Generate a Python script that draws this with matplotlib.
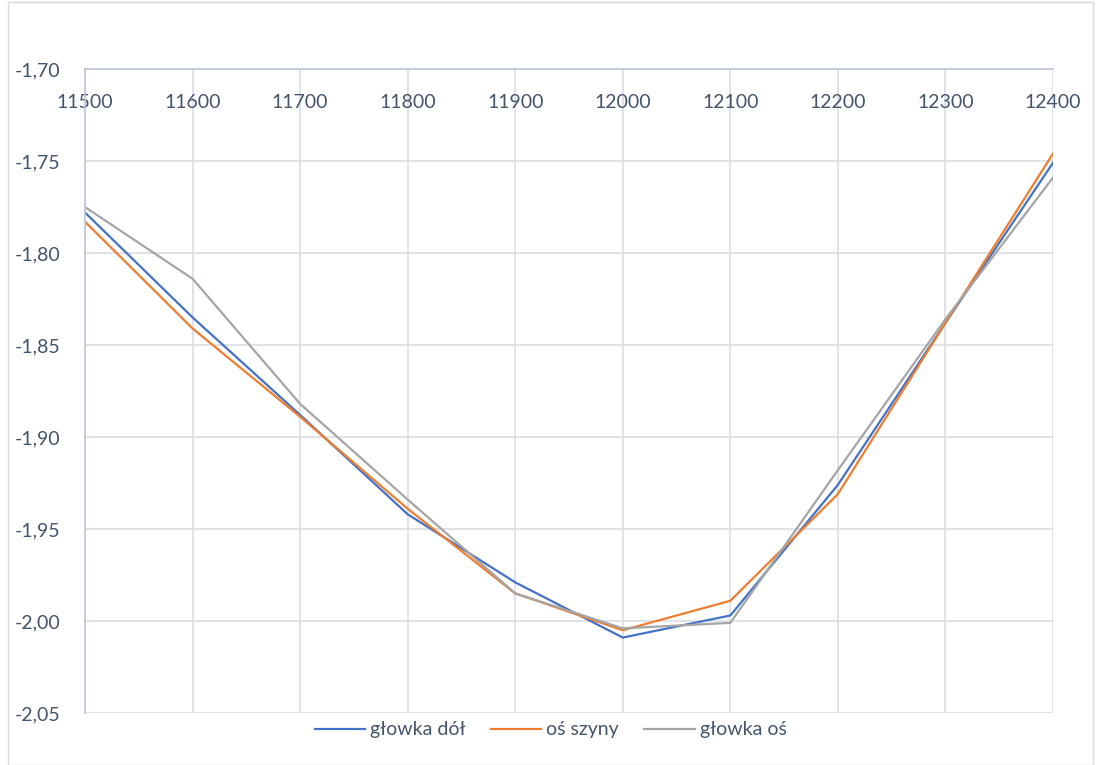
import matplotlib
matplotlib.use('Agg')
import matplotlib.pyplot as plt
from matplotlib.ticker import FuncFormatter, MultipleLocator
from matplotlib.patches import Rectangle

# data
km = [11500, 11600, 11700, 11800, 11900, 12000, 12100, 12200, 12300, 12400]
glowka_dol = [-1.778, -1.835, -1.888, -1.942, -1.979, -2.009, -1.997, -1.926, -1.838, -1.751]
os_szyny = [-1.783, -1.841, -1.889, -1.939, -1.985, -2.005, -1.989, -1.931, -1.838, -1.746]
glowka_os = [-1.775, -1.814, -1.882, -1.934, -1.985, -2.004, -2.001, -1.918, -1.836, -1.759]

labels = ['głowka dół', 'oś szyny', 'głowka oś']
colors = ['#4472C4', '#ED7D31', '#A5A5A5']
text_c = '#44546A'
grid_c = '#D9DDE3'

plt.rcParams['font.family'] = ['Lato', 'DejaVu Sans']

W, H = 1101, 765
fig = plt.figure(figsize=(W / 100, H / 100), dpi=100)
ax = fig.add_axes([85 / W, 1 - 713 / H, (1053 - 85) / W, (713 - 69) / H])

for ys, lab, c in zip([glowka_dol, os_szyny, glowka_os], labels, colors):
    ax.plot(km, ys, color=c, lw=1.6, label=lab, solid_joinstyle='miter')

ax.set_xlim(11500, 12400)
ax.set_ylim(-2.05, -1.70)
ax.xaxis.set_major_locator(MultipleLocator(100))
ax.yaxis.set_major_locator(MultipleLocator(0.05))
ax.yaxis.set_major_formatter(FuncFormatter(lambda v, p: f'{v:.2f}'.replace('.', ',')))

ax.grid(True, color=grid_c, lw=1.2)
ax.set_axisbelow(True)
for s in ['bottom', 'right']:
    ax.spines[s].set_visible(False)
for s in ['top', 'left']:
    ax.spines[s].set_color('#BCC6D6')
    ax.spines[s].set_linewidth(1.2)

ax.xaxis.tick_top()
ax.tick_params(axis='x', length=0, pad=-30, labelsize=14, labelcolor=text_c)
ax.tick_params(axis='y', length=0, pad=18, labelsize=14, labelcolor=text_c)
for t in ax.get_xticklabels():
    t.set_va('bottom')

fig.legend(loc='lower center', ncol=3, frameon=False, fontsize=14,
           labelcolor=text_c, bbox_to_anchor=(0.5, 0.012), handlelength=2.6,
           handletextpad=0.25, columnspacing=1.3)

fig.patches.append(Rectangle((8 / W, 0), (W - 16) / W, 1 - 2 / H, transform=fig.transFigure,
                             fill=False, edgecolor='#D9D9D9', lw=1))

fig.savefig('out.png', dpi=100)
